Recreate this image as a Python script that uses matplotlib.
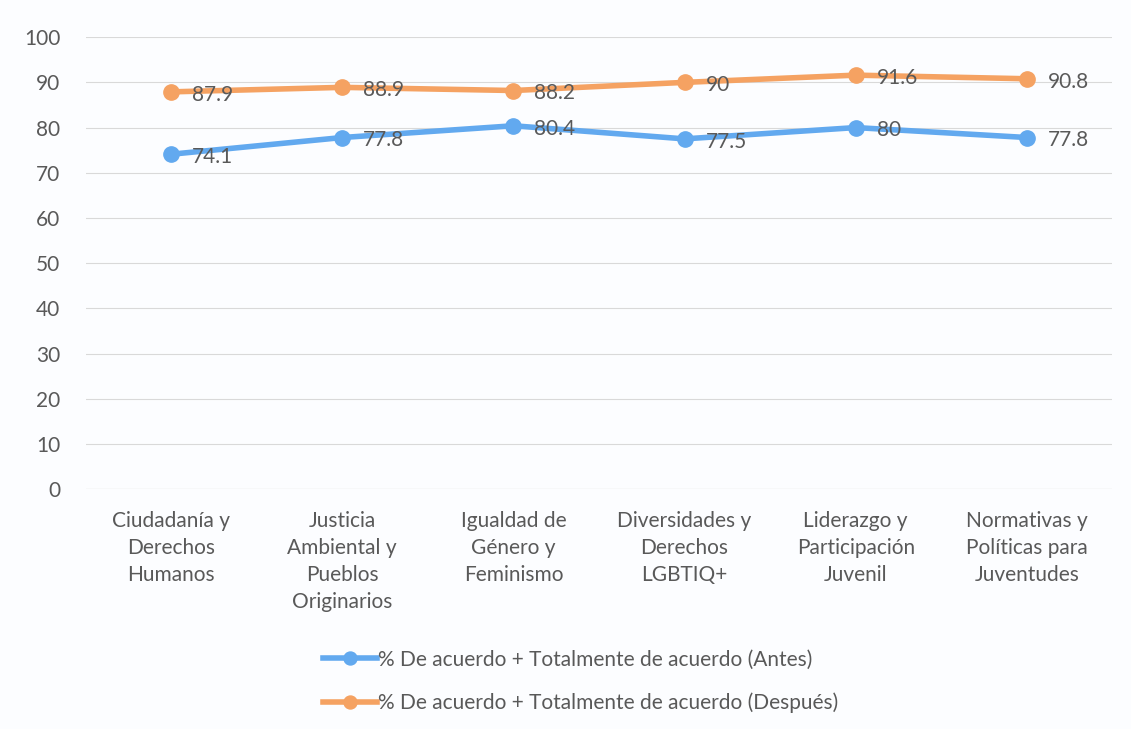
import matplotlib.pyplot as plt

categorias = ["Ciudadanía y\nDerechos\nHumanos",
              "Justicia\nAmbiental y\nPueblos\nOriginarios",
              "Igualdad de\nGénero y\nFeminismo",
              "Diversidades y\nDerechos\nLGBTIQ+",
              "Liderazgo y\nParticipación\nJuvenil",
              "Normativas y\nPolíticas para\nJuventudes"]
antes = [74.1, 77.8, 80.4, 77.5, 80, 77.8]
despues = [87.9, 88.9, 88.2, 90, 91.6, 90.8]
etiquetas_antes = ["74.1", "77.8", "80.4", "77.5", "80", "77.8"]
etiquetas_despues = ["87.9", "88.9", "88.2", "90", "91.6", "90.8"]

plt.rcParams['font.family'] = ['Lato', 'DejaVu Sans']
gris = '#595959'
azul = '#62a9ef'
naranja = '#f5a262'

fig = plt.figure(figsize=(11.31, 7.29), dpi=100, facecolor='#fcfdff')
ax = fig.add_axes([0.0756, 0.329, 0.908, 0.620])
ax.set_facecolor('#fcfdff')

xs = list(range(len(categorias)))
ax.plot(xs, antes, '-o', color=azul, lw=4, ms=11,
        label="% De acuerdo + Totalmente de acuerdo (Antes)", zorder=3)
ax.plot(xs, despues, '-o', color=naranja, lw=4, ms=11,
        label="% De acuerdo + Totalmente de acuerdo (Después)", zorder=3)

for x, y, t in zip(xs, antes, etiquetas_antes):
    ax.annotate(t, (x, y), xytext=(15, -2), textcoords='offset points',
                va='center', ha='left', fontsize=15, color=gris, zorder=4)
for x, y, t in zip(xs, despues, etiquetas_despues):
    ax.annotate(t, (x, y), xytext=(15, -2), textcoords='offset points',
                va='center', ha='left', fontsize=15, color=gris, zorder=4)

ax.set_xlim(-0.5, 5.5)
ax.set_ylim(0, 100)
ax.set_yticks(range(0, 101, 10))
ax.set_xticks(xs)
ax.set_xticklabels(categorias, fontsize=15, color=gris, linespacing=1.42)
ax.tick_params(axis='y', labelsize=15, labelcolor=gris, length=0, pad=18)
ax.tick_params(axis='x', length=0, pad=16)
ax.grid(axis='y', color='#d9d9d9', lw=0.8)
ax.set_axisbelow(True)
for s in ax.spines.values():
    s.set_visible(False)
ax.axhline(0, color='#d0d0d0', lw=0.8, zorder=1)

ax.legend(loc='upper center', bbox_to_anchor=(0.4825, -0.313), ncol=1,
          frameon=False, fontsize=15, labelcolor=gris, handlelength=2.6,
          handletextpad=0.05, labelspacing=1.1, markerscale=0.85)

fig.savefig('out.png', dpi=100, facecolor=fig.get_facecolor())
